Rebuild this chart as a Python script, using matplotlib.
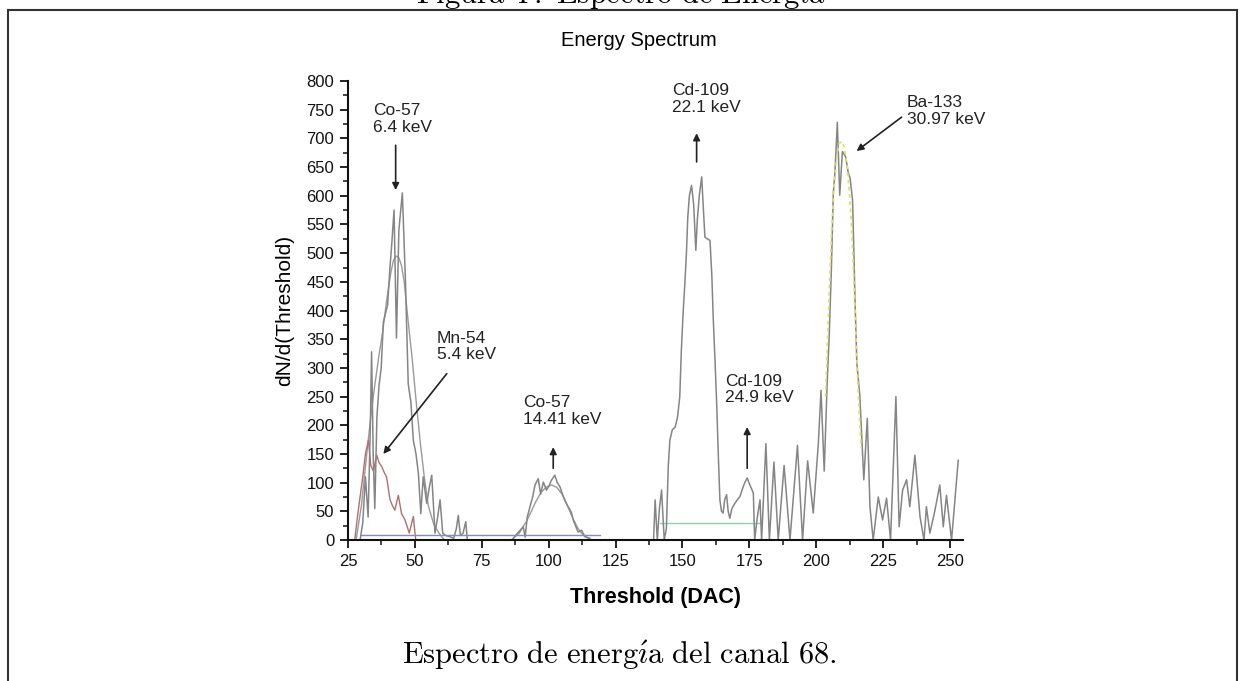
import matplotlib.pyplot as plt
from matplotlib.lines import Line2D
from matplotlib.ticker import MultipleLocator

plt.rcParams['font.family'] = ['Liberation Sans', 'DejaVu Sans']
plt.rcParams['mathtext.fontset'] = 'cm'

# Co-57 6.4 keV, raw scan
co57a_x = [29.5, 30.5, 31.5, 32.5, 33.3, 33.8, 34.4, 35.0, 35.8, 36.6, 37.4, 38.2, 39.0, 39.8,
           40.6, 41.4, 42.2, 43.1, 44.0, 45.3, 46.4, 47.5, 48.5, 49.4, 50.4, 51.3, 52.2, 53.1,
           54.4, 55.5, 56.3, 57.5, 58.5, 59.4, 60.4, 61.5, 63.0, 64.5, 65.5, 66.2, 67.0, 68.0,
           69.0, 69.6]
co57a_y = [0, 30, 110, 40, 190, 328, 150, 55, 215, 270, 300, 380, 395, 410,
           470, 520, 575, 352, 540, 605, 460, 272, 240, 174, 150, 116, 46, 110,
           64, 95, 113, 12, 40, 70, 12, 8, 6, 3, 20, 43, 8, 12,
           32, 0]

# Co-57 6.4 keV, smoothed
co57a_fit_x = [28, 30, 32, 33.5, 35, 36.5, 38, 39.5, 41, 42, 43, 44, 45, 46, 47.5, 49, 50.5,
               52, 53.5, 55, 57, 59, 61]
co57a_fit_y = [0, 60, 150, 215, 270, 320, 365, 420, 466, 488, 495, 492, 478, 450, 380, 315, 240,
               170, 110, 60, 28, 12, 0]

# Mn-54 5.4 keV
mn54_x = [27.5, 28.5, 29.5, 30.5, 31.5, 32.6, 33.5, 34.5, 35.7, 36.6, 37.6, 38.5, 39.4, 40.7,
          41.6, 42.5, 43.8, 45.0, 46.3, 47.9, 49.4, 50.3]
mn54_y = [0, 40, 75, 110, 150, 174, 130, 120, 148, 135, 128, 118, 110, 70,
          60, 52, 78, 46, 35, 12, 41, 0]

# Co-57 14.41 keV
co57b_x = [86.8, 88, 89.5, 90.5, 91.2, 92, 93, 94, 94.9, 96.1, 97, 98, 99.2, 100.2, 101, 102.3,
           103.2, 104.2, 105, 106, 107, 107.7, 108.5, 109.2, 110, 111, 112.3, 113.5, 115.4]
co57b_y = [3, 10, 18, 23, 5, 40, 58, 75, 96, 107, 80, 101, 87, 95, 104, 113,
           100, 93, 82, 70, 60, 55, 48, 35, 25, 14, 17, 6, 3]
co57b_fit_x = [86, 89, 92, 95, 97, 99, 101, 103, 105, 107, 109, 111, 113, 116]
co57b_fit_y = [0, 12, 35, 65, 82, 92, 96, 92, 80, 60, 38, 20, 8, 0]

# Cd-109 / Ba-133 scan
hi_x = [139.2, 139.8, 140.6, 141.4, 142.2, 143.2, 144.0, 144.7, 145.3, 146.2,
        147.3, 148.2, 149.0, 149.6, 150.3, 150.9, 151.5, 152.0, 152.6, 153.4,
        154.2, 155.0, 155.6, 156.3, 157.2, 157.8, 158.4, 159.3, 160.3, 161.0,
        161.5, 162.2, 162.8, 163.4, 164.0, 164.6, 165.2, 165.8, 166.5, 167.1,
        167.7, 168.5, 169.6, 170.5, 171.5, 172.5, 173.3, 174.2, 175.3, 176.5,
        177.0, 178.0, 179.0, 179.6, 181.2, 182.5, 184.2, 185.8, 188.0, 190.2,
        193.0, 194.9, 196.8, 198.9, 200.8, 201.8, 203.0, 204.1, 204.9, 205.7,
        206.4, 207.0, 207.9, 208.8, 209.8, 211.0, 212.0, 212.7, 213.6, 214.0,
        214.5, 215.2, 216.3, 217.8, 219.1, 220.1, 221.3, 223.2, 224.8, 226.3,
        227.8, 229.8, 231.0, 232.3, 233.8, 235.0, 236.9, 238.8, 240.3, 241.2,
        242.5, 244.4, 246.2, 247.5, 248.7, 250.6, 253.1]
hi_y = [0, 70, 0, 55, 87, 0, 20, 128, 174, 192,
        197, 215, 250, 331, 400, 447, 500, 563, 600, 618,
        585, 505, 560, 600, 633, 580, 528, 525, 522, 460,
        389, 310, 238, 150, 70, 50, 47, 70, 79, 50,
        38, 55, 64, 70, 76, 90, 100, 108, 95, 82,
        0, 40, 70, 0, 168, 0, 136, 0, 130, 0,
        165, 0, 138, 47, 168, 261, 120, 273, 360, 476,
        604, 640, 728, 601, 677, 668, 640, 630, 592, 520,
        420, 308, 252, 105, 212, 58, 0, 75, 35, 73,
        0, 250, 23, 87, 105, 58, 148, 41, 0, 58,
        12, 52, 96, 23, 78, 0, 139]

# Ba-133 fit
ba_fit_x = [203.5, 204.3, 205.0, 205.8, 206.6, 207.5, 208.5, 209.5, 210.5, 211.5, 212.5,
            213.4, 214.2, 215.0, 215.8, 216.8]
ba_fit_y = [250, 360, 450, 540, 610, 660, 690, 695, 685, 655, 600, 530, 440, 340, 250, 160]

# baselines
base_low_x = [30, 119]
base_low_y = [8, 8]
base_cd_x = [141.5, 179]
base_cd_y = [30, 30]

peak_labels = ['Co-57\n6.4 keV', 'Mn-54\n5.4 keV', 'Co-57\n14.41 keV',
               'Cd-109\n22.1 keV', 'Cd-109\n24.9 keV', 'Ba-133\n30.97 keV']
label_pos = [(34.3, 762), (58.3, 365), (90.4, 252), (146.1, 797), (165.9, 290), (233.9, 775)]
arrow_tail = [(42.8, 688), (61.9, 290), (101.7, 125), (155.3, 659), (174.2, 125), (231.9, 737)]
arrow_tip = [(42.8, 610), (38.2, 150), (101.7, 162), (155.3, 709), (174.2, 197), (215.1, 678)]

fig = plt.figure(figsize=(12.43, 6.81), dpi=100)
ax = fig.add_axes([0.28, 0.207, 0.495, 0.674])

gray = '#858585'
ax.plot(co57a_fit_x, co57a_fit_y, color='#9a9a9a', lw=1.0)
ax.plot(mn54_x, mn54_y, color='#b07070', lw=1.0)
ax.plot(co57a_x, co57a_y, color=gray, lw=1.1)
ax.plot(co57b_fit_x, co57b_fit_y, color='#9a9a9a', lw=1.0)
ax.plot(co57b_x, co57b_y, color=gray, lw=1.1)
ax.plot(base_low_x, base_low_y, color='#8888c8', lw=1.0)
ax.plot(base_cd_x, base_cd_y, color='#90d0b0', lw=1.0)
ax.plot(hi_x, hi_y, color=gray, lw=1.1)
ax.plot(ba_fit_x, ba_fit_y, color='#e0e070', lw=1.3, ls=(0, (2, 2)))

for txt, pos, tail, tip in zip(peak_labels, label_pos, arrow_tail, arrow_tip):
    ax.text(pos[0], pos[1], txt, ha='left', va='top', fontsize=12.5,
            color='#222222', linespacing=1.15)
    ax.annotate('', xy=tip, xytext=tail,
                arrowprops=dict(arrowstyle='-|>', color='#222222', lw=1.2,
                                mutation_scale=10, shrinkA=0, shrinkB=0))

ax.set_xlim(25, 255)
ax.set_ylim(0, 800)
ax.xaxis.set_major_locator(MultipleLocator(25))
ax.xaxis.set_minor_locator(MultipleLocator(12.5))
ax.yaxis.set_major_locator(MultipleLocator(50))
ax.yaxis.set_minor_locator(MultipleLocator(25))
ax.tick_params(which='major', direction='out', length=6, width=1.3, labelsize=12,
               pad=4, colors='#111111')
ax.tick_params(which='minor', direction='out', length=3.5, width=1.1, colors='#111111')
for side in ['top', 'right']:
    ax.spines[side].set_visible(False)
for side in ['left', 'bottom']:
    ax.spines[side].set_linewidth(1.5)
    ax.spines[side].set_color('#111111')

ax.set_xlabel('Threshold (DAC)', fontsize=15.5, fontweight='bold', labelpad=13)
ax.set_ylabel('dN/d(Threshold)', fontsize=15, labelpad=9)
fig.text(0.514, 0.941, 'Energy Spectrum', ha='center', va='center', fontsize=14.5)

# caption and page frame
fig.text(0.5, 0.994, r'$\mathrm{Figura\ 4{:}\ Espectro\ de\ Energ\acute{\imath}a}$',
         ha='center', va='baseline', fontsize=22)
fig.text(0.498, 0.038, r'$\mathrm{Espectro\ de\ energ\acute{\imath}a\ del\ canal\ 68.}$',
         ha='center', va='center', fontsize=22)
x0, x1, y0 = 8 / 1243, 1237 / 1243, 1 - 10 / 681
for xs, ys in [([x0, x0], [0, y0]), ([x1, x1], [0, y0]), ([x0, x1], [y0, y0])]:
    fig.add_artist(Line2D(xs, ys, transform=fig.transFigure, color='#333333', lw=1.5))

fig.savefig('out.png', dpi=100)
